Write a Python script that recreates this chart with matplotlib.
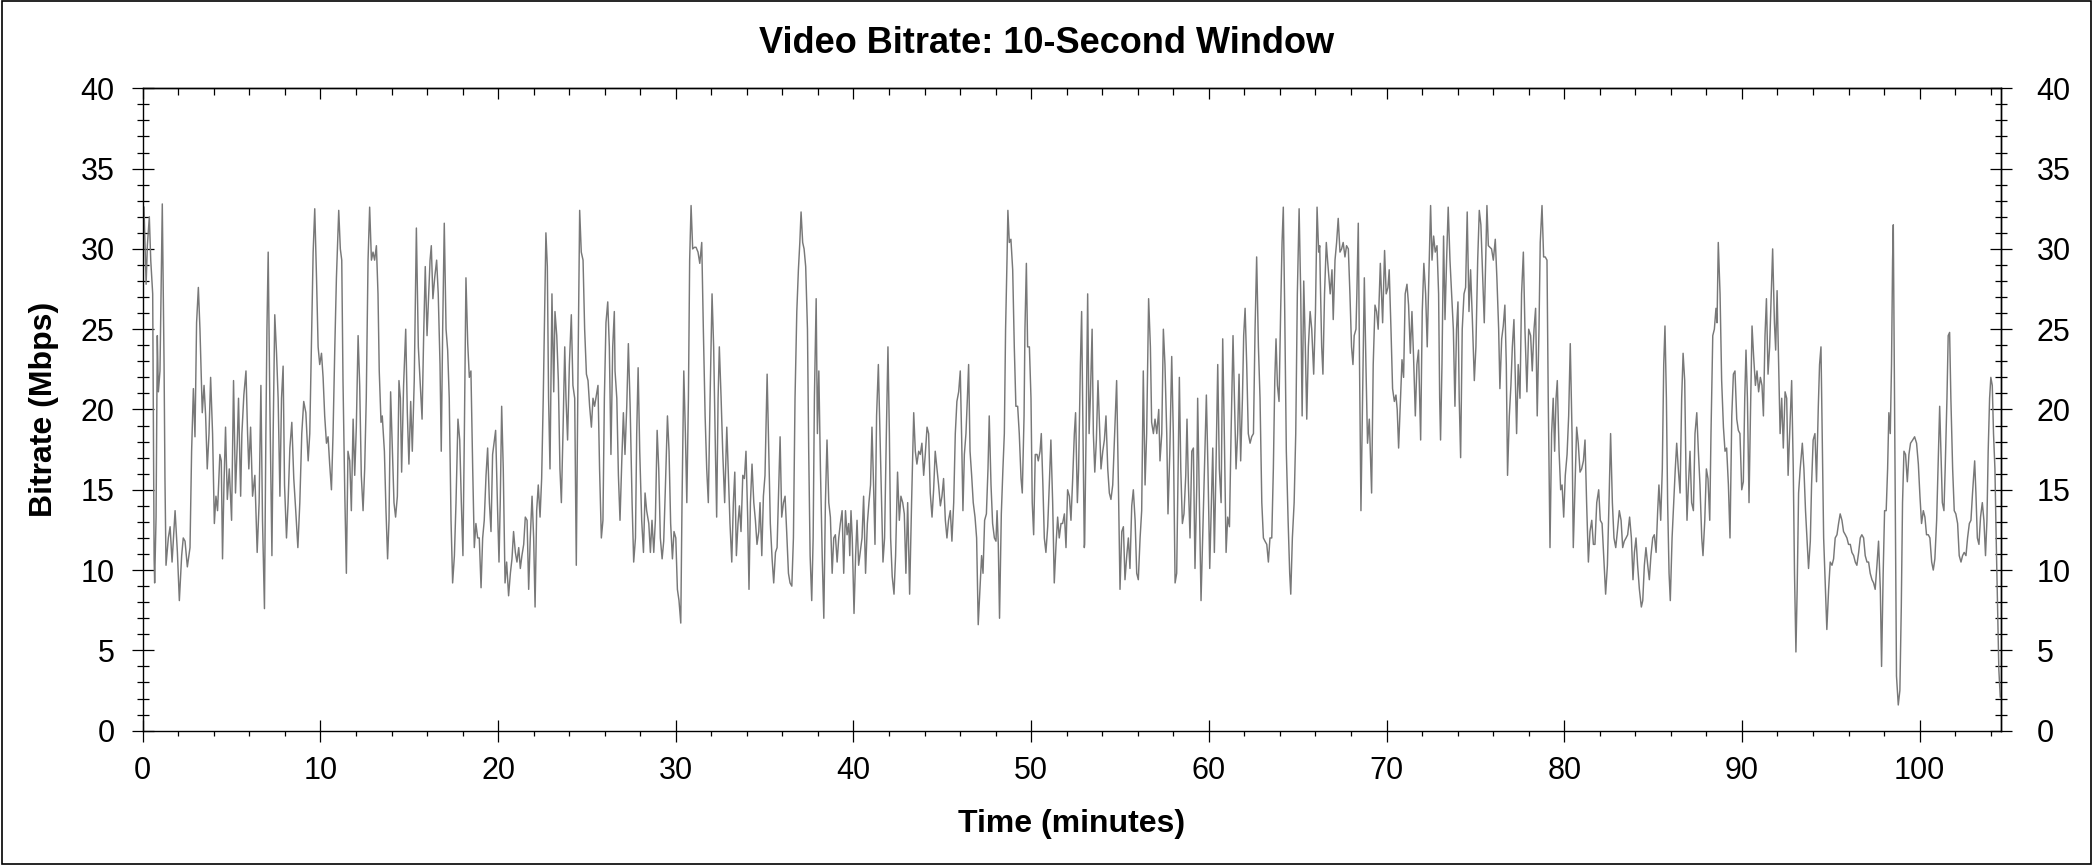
import matplotlib.pyplot as plt
from matplotlib.patches import Rectangle
from matplotlib.ticker import MultipleLocator, NullFormatter

plt.rcParams['font.family'] = ['Liberation Sans', 'DejaVu Sans']

title = 'Video Bitrate: 10-Second Window'
x_label = 'Time (minutes)'
y_label = 'Bitrate (Mbps)'

x_ticks = [0, 10, 20, 30, 40, 50, 60, 70, 80, 90, 100]
y_ticks = [0, 5, 10, 15, 20, 25, 30, 35, 40]

# values (minutes, Mbps)
minutes = [
    0.07, 0.19, 0.26, 0.37, 0.45, 0.56, 0.64, 0.67, 0.75, 0.82, 0.88, 0.97, 1.03, 1.10, 1.20, 1.25,
    1.31, 1.44, 1.54, 1.65, 1.82, 1.95, 2.06, 2.19, 2.28, 2.38, 2.51, 2.66, 2.75, 2.85, 2.94, 3.03,
    3.13, 3.22, 3.35, 3.45, 3.54, 3.63, 3.73, 3.82, 3.93, 4.03, 4.12, 4.21, 4.34, 4.42, 4.49, 4.57,
    4.66, 4.76, 4.87, 5.00, 5.11, 5.22, 5.32, 5.39, 5.51, 5.58, 5.69, 5.81, 5.90, 5.97, 6.07, 6.18,
    6.31, 6.44, 6.55, 6.65, 6.74, 6.85, 6.93, 6.99, 7.06, 7.15, 7.27, 7.34, 7.43, 7.53, 7.62, 7.72,
    7.81, 7.90, 7.98, 8.09, 8.18, 8.28, 8.39, 8.50, 8.61, 8.73, 8.84, 8.95, 9.06, 9.18, 9.31, 9.40,
    9.49, 9.59, 9.68, 9.78, 9.87, 9.96, 10.06, 10.15, 10.24, 10.34, 10.43, 10.52, 10.62, 10.71, 10.81, 10.90,
    11.03, 11.12, 11.20, 11.27, 11.37, 11.46, 11.55, 11.65, 11.74, 11.84, 11.93, 12.02, 12.12, 12.21, 12.30, 12.40,
    12.49, 12.58, 12.68, 12.77, 12.87, 12.96, 13.05, 13.15, 13.24, 13.31,
    13.41, 13.48, 13.60, 13.69, 13.78, 13.86, 13.95, 14.05, 14.14, 14.23, 14.33, 14.42, 14.50, 14.57, 14.68, 14.80,
    14.89, 14.98, 15.08, 15.17, 15.28, 15.40, 15.51, 15.62, 15.72, 15.81, 15.90, 16.00, 16.07, 16.17, 16.24, 16.33,
    16.43, 16.54, 16.63, 16.73, 16.80, 16.88, 16.97, 17.07, 17.16, 17.25, 17.35, 17.44, 17.54, 17.63, 17.74, 17.84,
    17.93, 18.02, 18.10, 18.19, 18.29, 18.38, 18.47, 18.57, 18.66, 18.75, 18.85, 18.94, 19.04, 19.13, 19.22, 19.32,
    19.41, 19.51, 19.60, 19.69, 19.79, 19.86, 19.96, 20.05, 20.12, 20.20, 20.29, 20.39, 20.48, 20.59, 20.69, 20.78,
    20.87, 20.97, 21.06, 21.16, 21.25, 21.34, 21.44, 21.53, 21.63, 21.72, 21.81, 21.91, 22.00, 22.08, 22.17, 22.26,
    22.36, 22.45, 22.54, 22.62, 22.69, 22.77, 22.84, 22.92, 23.03, 23.13, 23.20, 23.30, 23.39, 23.48, 23.56, 23.65,
    23.75, 23.82, 23.91, 24.01, 24.12, 24.21, 24.31, 24.40, 24.50, 24.59, 24.68, 24.78, 24.87, 24.97, 25.06, 25.15,
    25.25, 25.34, 25.43, 25.53, 25.62, 25.71, 25.81, 25.90, 25.98, 26.07, 26.17, 26.26, 26.35, 26.45, 26.54,
    26.58, 26.68, 26.77, 26.86, 26.96, 27.05, 27.14, 27.24, 27.33, 27.43, 27.54, 27.63, 27.73, 27.80, 27.88, 27.97,
    28.08, 28.18, 28.27, 28.36, 28.48, 28.57, 28.66, 28.76, 28.85, 28.95, 29.04, 29.13, 29.23, 29.32, 29.41, 29.53,
    29.62, 29.71, 29.81, 29.90, 30.00, 30.09, 30.18, 30.28, 30.35, 30.45, 30.54, 30.62, 30.71, 30.78, 30.86, 30.95,
    31.05, 31.14, 31.25, 31.35, 31.46, 31.55, 31.65, 31.74, 31.83, 31.93, 32.04, 32.13, 32.23, 32.30, 32.38, 32.45,
    32.55, 32.64, 32.75, 32.87, 32.96, 33.05, 33.15, 33.24, 33.32, 33.41, 33.50, 33.58, 33.67, 33.77, 33.86, 33.95,
    34.05, 34.12, 34.20, 34.29, 34.39, 34.48, 34.57, 34.67, 34.74, 34.84, 34.93, 35.02, 35.14, 35.23, 35.32, 35.42,
    35.51, 35.61, 35.70, 35.77, 35.87, 35.96, 36.06, 36.15, 36.24, 36.34, 36.43, 36.53, 36.62, 36.71, 36.81, 36.90,
    36.98, 37.05, 37.14, 37.22, 37.31, 37.41, 37.48, 37.56, 37.65, 37.73, 37.80, 37.90, 37.97, 38.05, 38.14, 38.24,
    38.33, 38.42, 38.51, 38.61, 38.70, 38.80, 38.89, 38.98, 39.08, 39.17, 39.26, 39.36, 39.45, 39.55, 39.64, 39.73,
    39.79,
    39.86, 39.93, 40.03, 40.12, 40.20, 40.29, 40.38, 40.48, 40.57, 40.68, 40.78, 40.87, 40.96, 41.04, 41.13, 41.21,
    41.30, 41.40, 41.49, 41.58, 41.66, 41.75, 41.85, 41.94, 42.02, 42.09, 42.18, 42.28, 42.37, 42.48, 42.58, 42.67,
    42.77, 42.86, 42.95, 43.05, 43.16, 43.27, 43.39, 43.48, 43.57, 43.67, 43.76, 43.85, 43.95, 44.04, 44.14, 44.23,
    44.32, 44.42, 44.51, 44.60, 44.70, 44.79, 44.89, 44.98, 45.07, 45.17, 45.26, 45.35, 45.45, 45.54, 45.64, 45.73,
    45.82, 45.92, 46.01, 46.09, 46.16, 46.24, 46.33, 46.41, 46.48, 46.56, 46.65, 46.74, 46.84, 46.93, 47.02, 47.12,
    47.21, 47.29, 47.38, 47.48, 47.57, 47.64, 47.74, 47.83, 47.93, 48.02, 48.08, 48.15, 48.22, 48.32, 48.41, 48.49,
    48.56, 48.64, 48.69, 48.77, 48.86, 48.96, 49.05, 49.14, 49.24, 49.33, 49.43, 49.50, 49.60, 49.65, 49.73, 49.80,
    49.90, 49.99, 50.06, 50.14, 50.23, 50.33, 50.40, 50.50, 50.57, 50.66, 50.74, 50.83, 50.93, 51.02, 51.11, 51.21,
    51.30, 51.40, 51.49, 51.58, 51.68, 51.77, 51.87, 51.96, 52.05, 52.15, 52.24, 52.33, 52.43, 52.50, 52.60, 52.67,
    52.77, 52.84, 52.92, 52.99,
    53.01, 53.09, 53.18, 53.26, 53.33, 53.43, 53.50, 53.58, 53.67, 53.76, 53.86, 53.93, 54.03, 54.12, 54.21, 54.31,
    54.40, 54.49, 54.59, 54.70, 54.81, 54.91, 55.00, 55.10, 55.19, 55.28, 55.38, 55.47, 55.56, 55.66, 55.75, 55.85,
    55.94, 56.03, 56.13, 56.22, 56.31, 56.41, 56.50, 56.61, 56.71, 56.78, 56.88, 56.97, 57.07, 57.18, 57.25, 57.35,
    57.44, 57.53, 57.63, 57.70, 57.80, 57.91, 58.00, 58.10, 58.19, 58.27, 58.34, 58.42, 58.51, 58.60, 58.70, 58.77,
    58.85, 58.94, 59.04, 59.13, 59.22, 59.32, 59.37, 59.47, 59.56, 59.65, 59.75, 59.86, 59.95, 60.05, 60.14, 60.22,
    60.31, 60.40, 60.50, 60.59, 60.69, 60.78, 60.87, 60.97, 61.06, 61.16, 61.25, 61.36, 61.46, 61.53, 61.62, 61.70,
    61.79, 61.89, 61.96, 62.04, 62.13, 62.22, 62.32, 62.41, 62.51, 62.60, 62.69, 62.79, 62.88, 62.98, 63.07, 63.16,
    63.26, 63.35, 63.44, 63.54, 63.63, 63.71, 63.78, 63.86, 63.95, 64.04, 64.12, 64.19, 64.27, 64.36, 64.46, 64.55,
    64.61, 64.70, 64.80, 64.89, 64.98, 65.08, 65.17, 65.25, 65.34, 65.43, 65.51, 65.60, 65.70, 65.79, 65.90, 66.00,
    66.09, 66.18, 66.24,
    66.27, 66.35, 66.42, 66.51, 66.61, 66.68, 66.76, 66.83, 66.93, 67.00, 67.10, 67.19, 67.28, 67.38, 67.47, 67.56,
    67.66, 67.75, 67.85, 67.94, 68.03, 68.11, 68.18, 68.28, 68.33, 68.41, 68.48, 68.56, 68.65, 68.75, 68.84, 68.93,
    69.03, 69.16, 69.25, 69.35, 69.44, 69.53, 69.65, 69.78, 69.89, 69.98, 70.08, 70.15, 70.25, 70.34, 70.44, 70.53,
    70.60, 70.68, 70.77, 70.87, 70.96, 71.05, 71.15, 71.24, 71.34, 71.43, 71.52, 71.62, 71.71, 71.80, 71.92, 72.01,
    72.10, 72.20, 72.29, 72.39, 72.48, 72.56, 72.65, 72.74, 72.84, 72.93, 72.99, 73.04, 73.12, 73.21, 73.29, 73.38,
    73.47, 73.57, 73.66, 73.76, 73.85, 73.94, 74.02, 74.09, 74.17, 74.26, 74.36, 74.45, 74.54, 74.64, 74.73, 74.83,
    74.94, 75.03, 75.13, 75.22, 75.31, 75.41, 75.50, 75.58, 75.65, 75.73, 75.82, 75.91, 76.01, 76.12, 76.21, 76.31,
    76.38, 76.48, 76.57, 76.66, 76.74, 76.81, 76.91, 77.00, 77.08, 77.17, 77.25, 77.32, 77.41, 77.51, 77.60, 77.70,
    77.79, 77.90, 78.00, 78.11, 78.20, 78.30, 78.39, 78.48, 78.58, 78.65, 78.75, 78.84, 78.93, 79.03, 79.10, 79.20,
    79.29, 79.38, 79.46,
    79.54, 79.61, 79.71, 79.80, 79.88, 79.97, 80.06, 80.16, 80.25, 80.34, 80.44, 80.51, 80.61, 80.70, 80.79, 80.89,
    80.98, 81.08, 81.17, 81.26, 81.36, 81.45, 81.55, 81.64, 81.73, 81.83, 81.94, 82.03, 82.13, 82.22, 82.33, 82.43,
    82.52, 82.61, 82.71, 82.80, 82.90, 82.99, 83.10, 83.20, 83.29, 83.38, 83.48, 83.57, 83.68, 83.78, 83.87, 83.95,
    84.04, 84.13, 84.23, 84.34, 84.42, 84.51, 84.60, 84.70, 84.79, 84.88, 84.98, 85.07, 85.17, 85.26, 85.33, 85.43,
    85.52, 85.60, 85.67, 85.75, 85.82, 85.90, 85.97, 86.07, 86.16, 86.25, 86.33, 86.42, 86.52, 86.61, 86.69, 86.78,
    86.85, 86.91, 86.99, 87.08, 87.17, 87.27, 87.36, 87.46, 87.55, 87.64, 87.74, 87.81, 87.91, 88.00, 88.09, 88.19,
    88.26, 88.36, 88.45, 88.54, 88.60, 88.67, 88.77, 88.86, 88.96, 89.05, 89.14, 89.24, 89.33, 89.43, 89.52, 89.61,
    89.71, 89.80, 89.89, 89.99, 90.08, 90.16, 90.23, 90.31, 90.40, 90.48, 90.57, 90.66, 90.76, 90.85, 90.94, 91.04,
    91.13, 91.21, 91.30, 91.38, 91.47, 91.56, 91.66, 91.73, 91.83, 91.90, 91.98, 92.07, 92.15, 92.24, 92.33, 92.43,
    92.52, 92.60, 92.69,
    92.80, 92.89, 92.96, 93.04, 93.11, 93.19, 93.28, 93.40, 93.49, 93.58, 93.68, 93.75, 93.85, 93.92, 94.01, 94.11,
    94.20, 94.30, 94.37, 94.45, 94.52, 94.60, 94.69, 94.78, 94.88, 94.97, 95.07, 95.16, 95.25, 95.35, 95.44, 95.53,
    95.63, 95.72, 95.82, 95.91, 96.00, 96.10, 96.19, 96.29, 96.38, 96.47, 96.57, 96.66, 96.75, 96.85, 96.94, 97.04,
    97.13, 97.22, 97.32, 97.41, 97.50, 97.60, 97.69, 97.79, 97.86, 97.95, 98.03, 98.12, 98.20, 98.27, 98.35, 98.42,
    98.48, 98.52, 98.57, 98.63, 98.70, 98.80, 98.89, 98.97, 99.04, 99.12, 99.21, 99.31, 99.40, 99.49, 99.61, 99.72,
    99.83, 99.93, 100.02, 100.11, 100.21, 100.30, 100.39, 100.49, 100.58, 100.68, 100.77, 100.86, 100.96, 101.05, 101.13, 101.20,
    101.28, 101.37, 101.44, 101.54, 101.61, 101.69, 101.76, 101.86, 101.95, 102.04, 102.14, 102.23, 102.33, 102.42, 102.51, 102.61,
    102.70, 102.80, 102.89, 102.98, 103.10, 103.17, 103.25, 103.34, 103.43, 103.53, 103.62, 103.71, 103.79, 103.86, 103.94, 104.01,
    104.09, 104.16, 104.24, 104.31, 104.39, 104.46, 104.54,
]

mbps = [
    32.6, 27.8, 30.2, 32.0, 29.3, 27.2, 10.7, 9.2, 13.3, 24.6, 21.1, 22.4, 27.2, 32.8, 22.8, 15.7,
    10.3, 12.0, 12.7, 10.5, 13.7, 11.1, 8.1, 10.9, 12.0, 11.8, 10.2, 11.4, 17.4, 21.3, 18.3, 25.4,
    27.6, 25.0, 19.8, 21.5, 19.6, 16.3, 18.5, 22.0, 18.5, 12.9, 14.6, 13.7, 17.2, 16.8, 10.7, 15.3,
    18.9, 14.4, 16.3, 13.1, 21.8, 14.8, 17.9, 20.7, 14.6, 18.5, 20.9, 22.4, 18.5, 16.3, 18.9, 14.6,
    15.9, 11.1, 14.2, 21.5, 13.1, 7.6, 18.5, 25.0, 29.8, 20.7, 10.9, 18.5, 25.9, 23.5, 20.7, 14.6,
    20.7, 22.7, 15.3, 12.0, 14.2, 17.6, 19.2, 15.7, 13.7, 11.4, 14.2, 18.5, 20.5, 19.8, 16.8, 18.5,
    23.9, 29.8, 32.5, 28.2, 23.9, 22.8, 23.5, 22.0, 19.6, 17.9, 18.3, 16.6, 15.0, 18.5, 23.9, 28.2,
    32.4, 30.0, 29.3, 21.8, 14.8, 9.8, 17.4, 16.8, 13.7, 19.4, 15.9, 18.9, 24.6, 21.5, 15.9, 13.7,
    16.3, 20.7, 29.3, 32.6, 29.3, 29.8, 29.3, 30.2, 27.2, 22.4,
    19.2, 19.6, 17.4, 13.7, 10.7, 13.1, 21.1, 17.4, 14.2, 13.3, 14.6, 21.8, 20.7, 16.1, 21.5, 25.0,
    19.8, 16.6, 20.5, 17.4, 21.8, 31.3, 23.9, 21.5, 19.4, 24.6, 28.9, 24.6, 26.5, 29.3, 30.2, 26.9,
    28.2, 29.3, 27.2, 22.8, 17.4, 25.0, 31.6, 25.0, 23.7, 20.7, 13.1, 9.2, 10.9, 14.2, 19.4, 18.1,
    14.2, 10.9, 18.5, 28.2, 24.1, 22.0, 22.4, 16.3, 11.4, 12.9, 12.0, 12.0, 8.9, 12.0, 13.1, 15.9,
    17.6, 14.2, 12.4, 17.2, 18.1, 18.7, 14.2, 10.5, 14.2, 20.2, 16.3, 9.2, 10.5, 8.4, 9.8, 10.7,
    12.4, 11.1, 10.5, 11.4, 10.1, 10.9, 11.6, 13.3, 13.1, 8.8, 12.0, 14.6, 12.0, 7.7, 13.7, 15.3,
    13.3, 15.7, 20.7, 26.1, 31.0, 28.9, 20.7, 16.3, 27.2, 21.1, 26.1, 24.6, 21.8, 16.3, 14.2, 18.5,
    23.9, 20.7, 18.1, 22.8, 25.9, 21.5, 20.7, 10.3, 22.8, 32.4, 29.8, 29.3, 25.0, 22.2, 21.8, 20.2,
    18.9, 20.7, 20.2, 20.9, 21.5, 16.3, 12.0, 13.1, 20.7, 25.4, 26.7, 23.9, 17.2, 23.9, 26.1,
    22.4, 20.7, 15.9, 13.1, 16.8, 19.8, 17.2, 20.2, 24.1, 20.2, 14.2, 10.5, 12.0, 18.5, 22.6, 17.4,
    13.1, 11.1, 14.8, 13.7, 12.9, 11.1, 13.1, 11.1, 13.1, 18.7, 16.3, 12.0, 10.7, 11.8, 15.0, 19.6,
    17.4, 12.9, 10.7, 12.4, 12.0, 8.8, 8.1, 6.7, 14.2, 22.4, 18.5, 14.2, 20.7, 29.3, 32.7, 30.0,
    30.1, 30.1, 29.8, 29.1, 30.4, 25.0, 19.6, 16.3, 14.2, 20.7, 27.2, 23.9, 17.4, 13.3, 20.7, 23.9,
    20.7, 17.4, 14.2, 18.9, 15.9, 12.9, 10.5, 14.2, 16.1, 10.9, 12.9, 14.0, 12.4, 15.9, 15.7, 17.4,
    13.1, 8.8, 14.2, 16.6, 14.2, 13.1, 11.6, 12.4, 14.2, 10.9, 14.6, 15.9, 22.2, 17.4, 12.9, 10.7,
    9.2, 11.1, 11.4, 14.2, 18.3, 13.3, 14.2, 14.6, 12.4, 9.8, 9.2, 9.0, 12.0, 20.7, 26.1, 28.7,
    30.4, 32.3, 30.4, 30.0, 28.9, 25.0, 17.4, 10.9, 8.1, 12.0, 20.7, 26.9, 18.5, 22.4, 16.3, 10.9,
    7.0, 14.2, 18.1, 14.2, 13.3, 9.8, 12.0, 12.2, 10.5, 12.0, 12.9, 13.7, 9.8, 13.7, 12.2, 12.9,
    10.9,
    13.7, 12.0, 7.3, 10.9, 13.1, 10.3, 11.1, 12.0, 14.6, 9.8, 12.9, 14.2, 15.3, 18.9, 15.3, 11.6,
    19.6, 22.8, 18.5, 14.2, 10.5, 12.0, 18.5, 23.9, 18.5, 12.0, 9.6, 8.5, 10.9, 16.1, 13.1, 14.6,
    14.2, 13.5, 9.8, 14.2, 8.5, 14.2, 19.8, 17.4, 16.6, 17.4, 17.2, 17.9, 15.9, 17.2, 18.9, 18.5,
    14.8, 13.3, 15.0, 17.4, 16.3, 15.3, 14.0, 14.6, 15.7, 13.1, 12.0, 13.1, 13.7, 11.8, 14.2, 18.5,
    20.5, 21.1, 22.4, 18.1, 13.7, 17.2, 18.5, 20.7, 22.8, 17.4, 15.9, 14.2, 13.3, 12.0, 6.6, 8.8,
    10.9, 9.8, 13.1, 13.5, 16.3, 19.6, 15.3, 12.9, 12.0, 11.8, 13.7, 11.6, 7.0, 13.5, 16.3, 18.5,
    25.0, 29.3, 32.4, 30.4, 30.6, 28.7, 23.9, 20.2, 20.2, 18.5, 15.7, 14.8, 19.6, 25.0, 29.1, 23.9,
    23.9, 20.7, 14.2, 12.2, 17.2, 17.2, 16.8, 17.4, 18.5, 15.3, 12.0, 11.1, 12.7, 15.3, 18.1, 14.2,
    9.2, 11.6, 13.3, 12.0, 12.9, 12.9, 13.5, 11.4, 15.0, 14.6, 13.1, 15.5, 18.5, 19.8, 14.2, 16.3,
    22.8, 26.1, 18.5, 11.4,
    11.6, 18.5, 27.2, 18.5, 20.7, 25.0, 18.5, 16.1, 18.1, 21.8, 18.5, 16.3, 17.4, 18.1, 19.6, 16.3,
    14.8, 14.4, 15.3, 18.5, 21.8, 15.3, 8.8, 12.4, 12.7, 9.4, 10.9, 12.0, 10.1, 14.0, 15.0, 13.1,
    9.8, 9.4, 12.0, 13.7, 22.4, 15.3, 18.5, 26.9, 23.9, 19.2, 18.5, 19.4, 18.5, 20.0, 16.8, 18.5,
    25.0, 22.8, 18.5, 13.5, 17.2, 23.3, 18.5, 9.2, 9.8, 16.3, 22.0, 16.3, 12.9, 13.5, 15.9, 19.4,
    15.3, 12.0, 17.4, 17.6, 10.1, 15.3, 20.7, 14.2, 8.1, 12.0, 16.3, 20.9, 16.3, 10.1, 14.2, 17.6,
    11.1, 16.3, 22.8, 16.3, 14.2, 24.4, 18.5, 11.1, 13.3, 12.7, 18.5, 24.6, 19.6, 16.3, 18.5, 22.2,
    16.8, 20.7, 24.6, 26.3, 22.8, 18.5, 17.9, 18.3, 18.5, 25.0, 29.5, 23.9, 20.7, 14.2, 12.0, 11.8,
    11.6, 10.5, 12.0, 12.0, 16.3, 21.8, 24.4, 21.5, 20.5, 26.1, 30.4, 32.6, 26.1, 17.4, 13.1, 9.8,
    8.5, 12.0, 14.2, 18.5, 27.2, 32.5, 27.2, 19.6, 28.0, 23.9, 19.4, 23.9, 26.1, 25.0, 22.2, 26.1,
    32.6, 29.8, 30.2,
    28.2, 23.9, 22.2, 27.2, 30.4, 29.3, 28.2, 27.2, 28.7, 25.6, 29.3, 30.4, 31.9, 29.8, 30.0, 30.4,
    29.5, 30.2, 30.0, 27.2, 23.9, 22.8, 24.6, 25.0, 27.2, 31.6, 22.8, 13.7, 20.7, 28.2, 22.8, 17.9,
    19.4, 14.8, 22.8, 26.5, 26.1, 25.0, 29.1, 25.4, 29.9, 27.2, 27.6, 28.7, 25.0, 21.3, 20.5, 20.9,
    20.0, 17.6, 20.2, 23.1, 22.0, 27.2, 27.8, 26.5, 23.5, 26.1, 23.3, 19.6, 22.8, 23.7, 18.1, 26.1,
    29.1, 27.2, 23.9, 28.7, 32.7, 29.3, 30.8, 29.8, 30.2, 27.2, 20.7, 18.1, 22.8, 30.8, 25.6, 29.3,
    32.6, 29.3, 27.2, 25.0, 20.2, 25.0, 26.7, 20.7, 17.0, 25.0, 27.2, 27.6, 32.3, 26.1, 28.7, 25.6,
    21.8, 23.9, 29.3, 32.4, 31.5, 28.2, 25.4, 29.3, 32.7, 30.2, 30.1, 30.0, 29.3, 30.6, 28.2, 25.0,
    21.3, 24.4, 25.2, 26.5, 22.8, 15.9, 19.6, 21.5, 23.9, 25.6, 21.8, 18.5, 22.8, 20.7, 27.2, 29.8,
    25.0, 21.1, 25.0, 24.6, 22.4, 25.0, 26.3, 19.6, 25.0, 30.4, 32.7, 29.5, 29.5, 29.3, 20.7, 11.4,
    18.5, 20.7, 17.4,
    20.7, 21.8, 17.4, 15.0, 15.3, 13.3, 15.9, 17.2, 19.6, 24.1, 18.5, 11.4, 15.3, 18.9, 17.9, 16.1,
    16.3, 16.8, 18.1, 14.2, 10.5, 12.4, 13.1, 11.6, 11.6, 14.2, 15.0, 13.1, 12.9, 10.9, 8.5, 10.3,
    14.2, 18.5, 14.2, 12.0, 11.4, 12.4, 13.7, 13.1, 11.4, 11.8, 12.0, 12.2, 13.3, 12.0, 9.4, 11.1,
    12.0, 10.3, 8.8, 7.7, 8.1, 10.3, 11.4, 10.3, 9.4, 10.9, 12.0, 12.2, 11.1, 13.7, 15.3, 13.1,
    16.3, 22.8, 25.2, 20.7, 14.2, 9.8, 8.1, 12.0, 14.2, 16.3, 17.9, 16.3, 14.8, 20.7, 23.5, 21.8,
    16.3, 13.1, 15.3, 17.4, 14.2, 13.7, 18.5, 19.8, 17.4, 15.3, 12.0, 10.9, 13.1, 16.3, 15.7, 13.1,
    18.5, 24.6, 25.0, 26.3, 25.4, 30.4, 27.2, 21.8, 18.9, 17.4, 17.6, 15.3, 12.0, 19.6, 22.2, 22.4,
    19.4, 18.7, 18.5, 15.0, 15.5, 20.7, 23.7, 20.7, 14.2, 19.6, 25.2, 23.3, 21.5, 22.4, 21.1, 22.0,
    21.5, 19.6, 24.6, 26.9, 22.2, 23.9, 27.6, 30.0, 25.4, 23.7, 27.4, 22.8, 18.5, 20.7, 17.6, 21.1,
    20.7, 15.9, 18.5,
    21.8, 16.3, 9.8, 4.9, 8.8, 14.8, 16.3, 17.9, 16.3, 13.7, 11.6, 10.1, 11.8, 15.3, 18.1, 18.5,
    15.5, 20.2, 22.8, 23.9, 18.5, 12.0, 9.2, 6.3, 8.8, 10.5, 10.3, 10.7, 12.0, 12.2, 12.9, 13.5,
    13.1, 12.4, 12.2, 12.0, 11.6, 11.6, 11.1, 10.9, 10.5, 10.3, 11.1, 12.0, 12.2, 12.0, 10.9, 10.5,
    10.5, 9.8, 9.4, 9.2, 8.8, 10.3, 11.8, 8.8, 4.0, 9.8, 13.7, 13.7, 16.3, 19.8, 18.5, 22.8,
    29.3, 31.5, 23.9, 14.2, 3.4, 1.6, 2.5, 7.7, 14.2, 17.4, 17.2, 15.5, 17.2, 17.9, 18.1, 18.3,
    17.9, 16.6, 14.6, 12.9, 13.7, 13.3, 12.2, 12.2, 12.0, 10.5, 10.0, 10.7, 13.1, 16.8, 20.2, 17.4,
    14.2, 13.7, 16.3, 20.7, 24.6, 24.8, 20.7, 16.3, 13.7, 13.5, 12.9, 10.9, 10.5, 10.9, 11.1, 10.9,
    12.0, 12.9, 13.1, 14.8, 16.8, 14.8, 12.0, 11.6, 13.3, 14.2, 13.1, 10.9, 13.1, 17.4, 20.7, 22.0,
    21.5, 18.5, 16.3, 12.0, 7.7, 3.8, 2.1,
]

fig = plt.figure(figsize=(20.93, 8.65), dpi=100)
ax = fig.add_axes([0.0682, 0.1553, 0.8880, 0.7426])

ax.plot(minutes, mbps, color='#787878', linewidth=1.05)

ax.set_xlim(0, 104.6)
ax.set_ylim(0, 40)
ax.set_xticks(x_ticks)
ax.set_yticks(y_ticks)
ax.xaxis.set_minor_locator(MultipleLocator(2))
ax.yaxis.set_minor_locator(MultipleLocator(1))

for s in ax.spines.values():
    s.set_linewidth(1.0)

ax.tick_params(which='major', direction='inout', length=16.5, width=0.9, labelsize=22)
ax.tick_params(axis='x', which='major', pad=10)
ax.tick_params(axis='y', which='major', pad=12)
ax.tick_params(axis='x', which='minor', direction='out', length=3.6, width=0.9)
ax.tick_params(axis='y', which='minor', direction='inout', length=8, width=0.9)

# ticks along the top, no labels
top = ax.secondary_xaxis('top')
top.set_xticks(x_ticks)
top.xaxis.set_minor_locator(MultipleLocator(2))
top.xaxis.set_major_formatter(NullFormatter())
top.tick_params(which='major', direction='in', length=8, width=0.9)
top.tick_params(which='minor', direction='in', length=5, width=0.9)
top.spines['top'].set_linewidth(1.0)

# right axis repeats the labels
right = ax.secondary_yaxis('right')
right.set_yticks(y_ticks)
right.yaxis.set_minor_locator(MultipleLocator(1))
right.tick_params(which='major', direction='inout', length=16.5, width=0.9, labelsize=22, pad=17)
right.tick_params(which='minor', direction='inout', length=8, width=0.9)
right.spines['right'].set_linewidth(1.0)

ax.set_xlabel(x_label, fontsize=23, fontweight='bold')
ax.xaxis.set_label_coords(0.5, -0.157)
ax.xaxis.label.set_verticalalignment('baseline')
ax.set_ylabel(y_label, fontsize=23, fontweight='bold')
ax.yaxis.set_label_coords(-0.0453, 0.5)

fig.text(0.5, 0.9387, title, ha='center', va='baseline', fontsize=26, fontweight='bold')

# thin frame round the whole picture
fig.add_artist(Rectangle((0.0008, 0.0015), 0.9984, 0.997, transform=fig.transFigure,
                         fill=False, edgecolor='black', linewidth=1.2))

fig.savefig('out.png', dpi=100)
